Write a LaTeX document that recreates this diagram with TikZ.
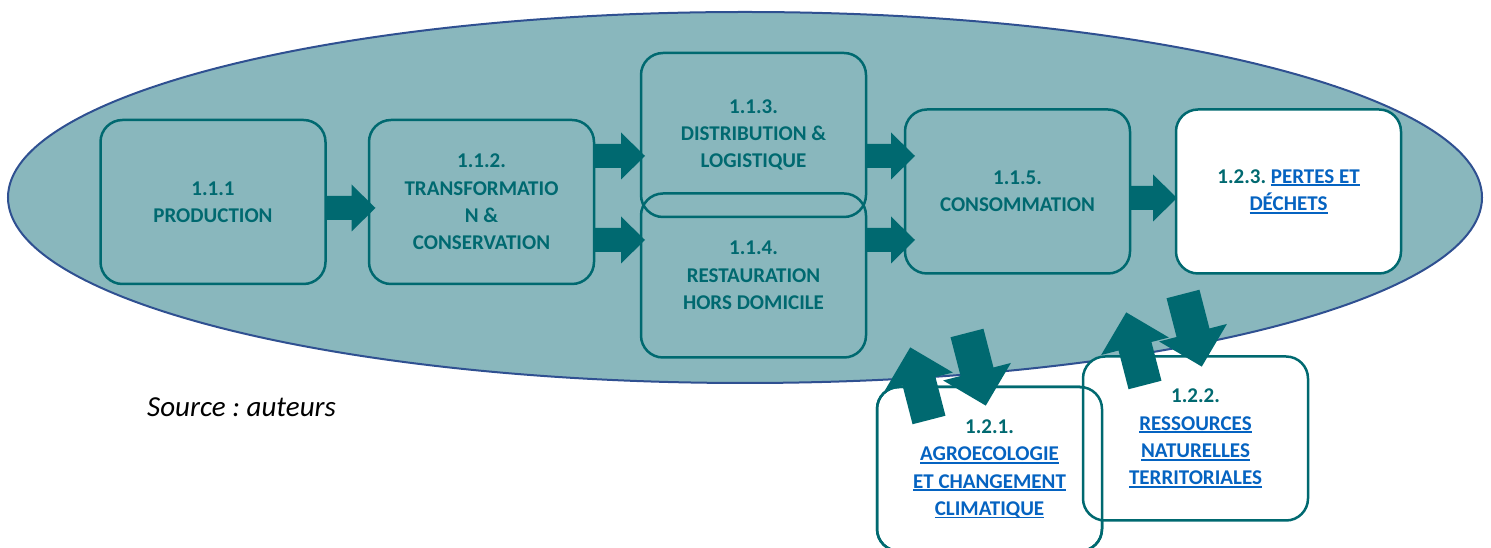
\documentclass[tikz,border=0pt]{standalone}
\usepackage{fontspec}
\setmainfont{Carlito}
\usetikzlibrary{calc}
\frenchspacing
\definecolor{ellfill}{RGB}{137,183,189}
\definecolor{ellline}{RGB}{47,80,145}
\definecolor{tealc}{RGB}{0,105,112}
\definecolor{linkc}{RGB}{5,99,193}
\newcommand\lnk[1]{{\color{linkc}\setbox0\hbox{#1}\rlap{\rule[-3pt]{\wd0}{1.8pt}}\box0}}
\tikzset{
  box/.style={draw=tealc, line width=2.5pt, rounded corners=22pt, minimum width=225pt,
    minimum height=164pt, align=center, font=\fontsize{21}{27.3}\selectfont\bfseries,
    text=tealc, inner sep=0pt, outer sep=0pt},
  wbox/.style={box, fill=white},
  pics/barrow/.style args={#1/#2/#3/#4}{code={
    \fill[tealc] (0,-#2) -- ({#1-#4},-#2) -- ({#1-#4},-#3) -- (#1,0) -- ({#1-#4},#3) -- ({#1-#4},#2) -- (0,#2) -- cycle;}}
}
\begin{document}
\begin{tikzpicture}[x=1pt,y=1pt]
\useasboundingbox (0,0) rectangle (1491,548);
\draw[fill=ellfill, draw=ellline, line width=2pt] (745,350.5) ellipse [x radius=737, y radius=185.5];

\node[box] (p111) at (213,346) {1.1.1\\PRODUCTION};
\node[box] (p112) at (481.5,346) {1.1.2.\\TRANSFORMATIO\\N \&\\CONSERVATION};
\node[box] (p113) at (753.5,413) {1.1.3.\\DISTRIBUTION \&\\LOGISTIQUE};
\node[box] (p114) at (753.5,272.5) {1.1.4.\\RESTAURATION\\HORS DOMICILE};
\node[box] (p115) at (1017.5,356.5) {1.1.5.\\CONSOMMATION};
\node[wbox] (p123) at (1288.5,356.5) {1.2.3. \lnk{PERTES ET}\\\lnk{DÉCHETS}};
\node[wbox] (p121) at (989.5,79) {1.2.1.\\\lnk{AGROECOLOGIE}\\\lnk{ET CHANGEMENT}\\\lnk{CLIMATIQUE}};
\node[wbox] (p122) at (1195.5,109.5) {1.2.2.\\\lnk{RESSOURCES}\\\lnk{NATURELLES}\\\lnk{TERRITORIALES}};
\draw[tealc, line width=2.5pt, rounded corners=22pt] (p121.south west) rectangle (p121.north east);

\pic at ($(p111.east)+(0,-6)$) {barrow=50/12/23.5/24};
\pic at ($(p112.east)+(0,46)$) {barrow=51/12/23.5/24};
\pic at ($(p112.east)+(0,-38)$) {barrow=51/12/23.5/24};
\pic at ($(p113.east)+(0,-21)$) {barrow=49/12/23.5/24};
\pic at ($(p114.east)+(0,35.5)$) {barrow=49/12/23.5/24};
\pic at ($(p115.east)+(0,-6.5)$) {barrow=47/12/23.5/24};

\pic[rotate=104.5] at (929,128) {barrow=75/17/35/35};
\pic[rotate=-75.5] at (967,215) {barrow=75/17/35/35};
\pic[rotate=104.5] at (1145,163) {barrow=75/17/35/35};
\pic[rotate=-75.5] at (1183,254) {barrow=75/17/35/35};

\node[anchor=base west, font=\fontsize{29}{34}\selectfont\itshape, inner sep=0pt] (src) at (147,131) {Source : auteurs};
\end{tikzpicture}
\end{document}
